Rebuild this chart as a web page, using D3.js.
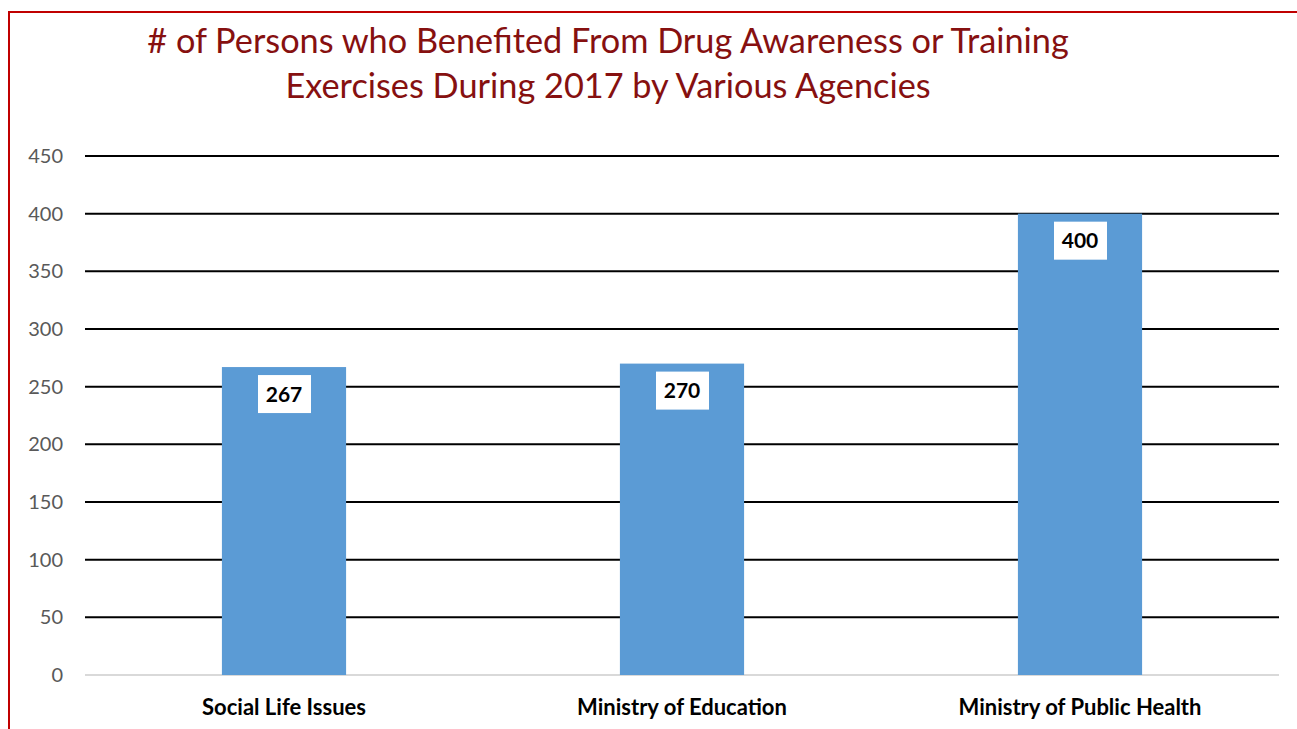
<!DOCTYPE html>
<html>
<head>
<meta charset="utf-8">
<script src="https://cdn.jsdelivr.net/npm/d3@7"></script>
<style>
  body { margin: 0; background: #fff; }
  svg { display: block; }
</style>
</head>
<body>
<svg width="1297" height="729"></svg>
<script>
// data
var categories = ["Social Life Issues", "Ministry of Education", "Ministry of Public Health"];
var values = [267, 270, 400];
var yTicks = [0, 50, 100, 150, 200, 250, 300, 350, 400, 450];
var titleLines = ["# of Persons who Benefited From Drug Awareness or Training",
                  "Exercises During 2017 by Various Agencies"];

var font = "Lato, 'Open Sans', sans-serif";

function main() {
    var svg = d3.select("svg");

    // frame
    svg.append("path")
        .attr("d", "M9,729 L9,12 L1297,12")
        .attr("fill", "none")
        .attr("stroke", "#c00000")
        .attr("stroke-width", 2);

    // title
    svg.append("text")
        .attr("text-anchor", "middle")
        .attr("fill", "#861010")
        .attr("font-family", font)
        .attr("font-size", "34.3px")
        .selectAll("tspan")
        .data(titleLines)
        .enter().append("tspan")
        .attr("x", 608)
        .attr("y", function(d, i) { return 53 + i * 45; })
        .text(function(d) { return d; });

    var left = 85, right = 1279, top = 156, bottom = 675;

    var xScale = d3.scaleBand().domain(categories).range([left, right])
        .paddingInner(0.688).paddingOuter(0.344);
    var yScale = d3.scaleLinear().domain([0, 450]).range([bottom, top]);

    // grid
    svg.append("g").selectAll("line")
        .data(yTicks)
        .enter().append("line")
        .attr("x1", left).attr("x2", right)
        .attr("y1", function(d) { return yScale(d); })
        .attr("y2", function(d) { return yScale(d); })
        .attr("stroke", function(d) { return d === 0 ? "#d9d9d9" : "#000"; })
        .attr("stroke-width", 2);

    // y axis labels
    var yaxis = svg.append("g")
        .attr("transform", "translate(" + (left - 22) + ",0)")
        .call(d3.axisLeft(yScale).tickValues(yTicks).tickSize(0).tickPadding(0));
    yaxis.select(".domain").remove();
    yaxis.selectAll("text")
        .attr("fill", "#595959")
        .attr("font-family", font)
        .attr("font-size", "20px");

    // bars
    svg.append("g").selectAll("rect")
        .data(values)
        .enter().append("rect")
        .attr("x", function(d, i) { return xScale(categories[i]); })
        .attr("y", function(d) { return yScale(d); })
        .attr("width", xScale.bandwidth())
        .attr("height", function(d) { return bottom - yScale(d); })
        .attr("fill", "#5b9bd5");

    // value labels
    var lab = svg.append("g").selectAll("g")
        .data(values)
        .enter().append("g")
        .attr("transform", function(d, i) {
            return "translate(" + (xScale(categories[i]) + xScale.bandwidth() / 2) + "," + (yScale(d) + 27) + ")";
        });
    lab.append("rect")
        .attr("x", -26).attr("y", -19)
        .attr("width", 53).attr("height", 38)
        .attr("fill", "#fff");
    lab.append("text")
        .attr("text-anchor", "middle")
        .attr("dy", "0.36em")
        .attr("font-family", font)
        .attr("font-weight", "bold")
        .attr("font-size", "21px")
        .attr("fill", "#000")
        .text(function(d) { return d; });

    // x axis labels
    var xaxis = svg.append("g")
        .attr("transform", "translate(0," + bottom + ")")
        .call(d3.axisBottom(xScale).tickSize(0).tickPadding(24));
    xaxis.select(".domain").remove();
    xaxis.selectAll("text")
        .attr("fill", "#000")
        .attr("font-family", font)
        .attr("font-weight", "bold")
        .attr("font-size", "22px");
}
main();
</script>
</body>
</html>
